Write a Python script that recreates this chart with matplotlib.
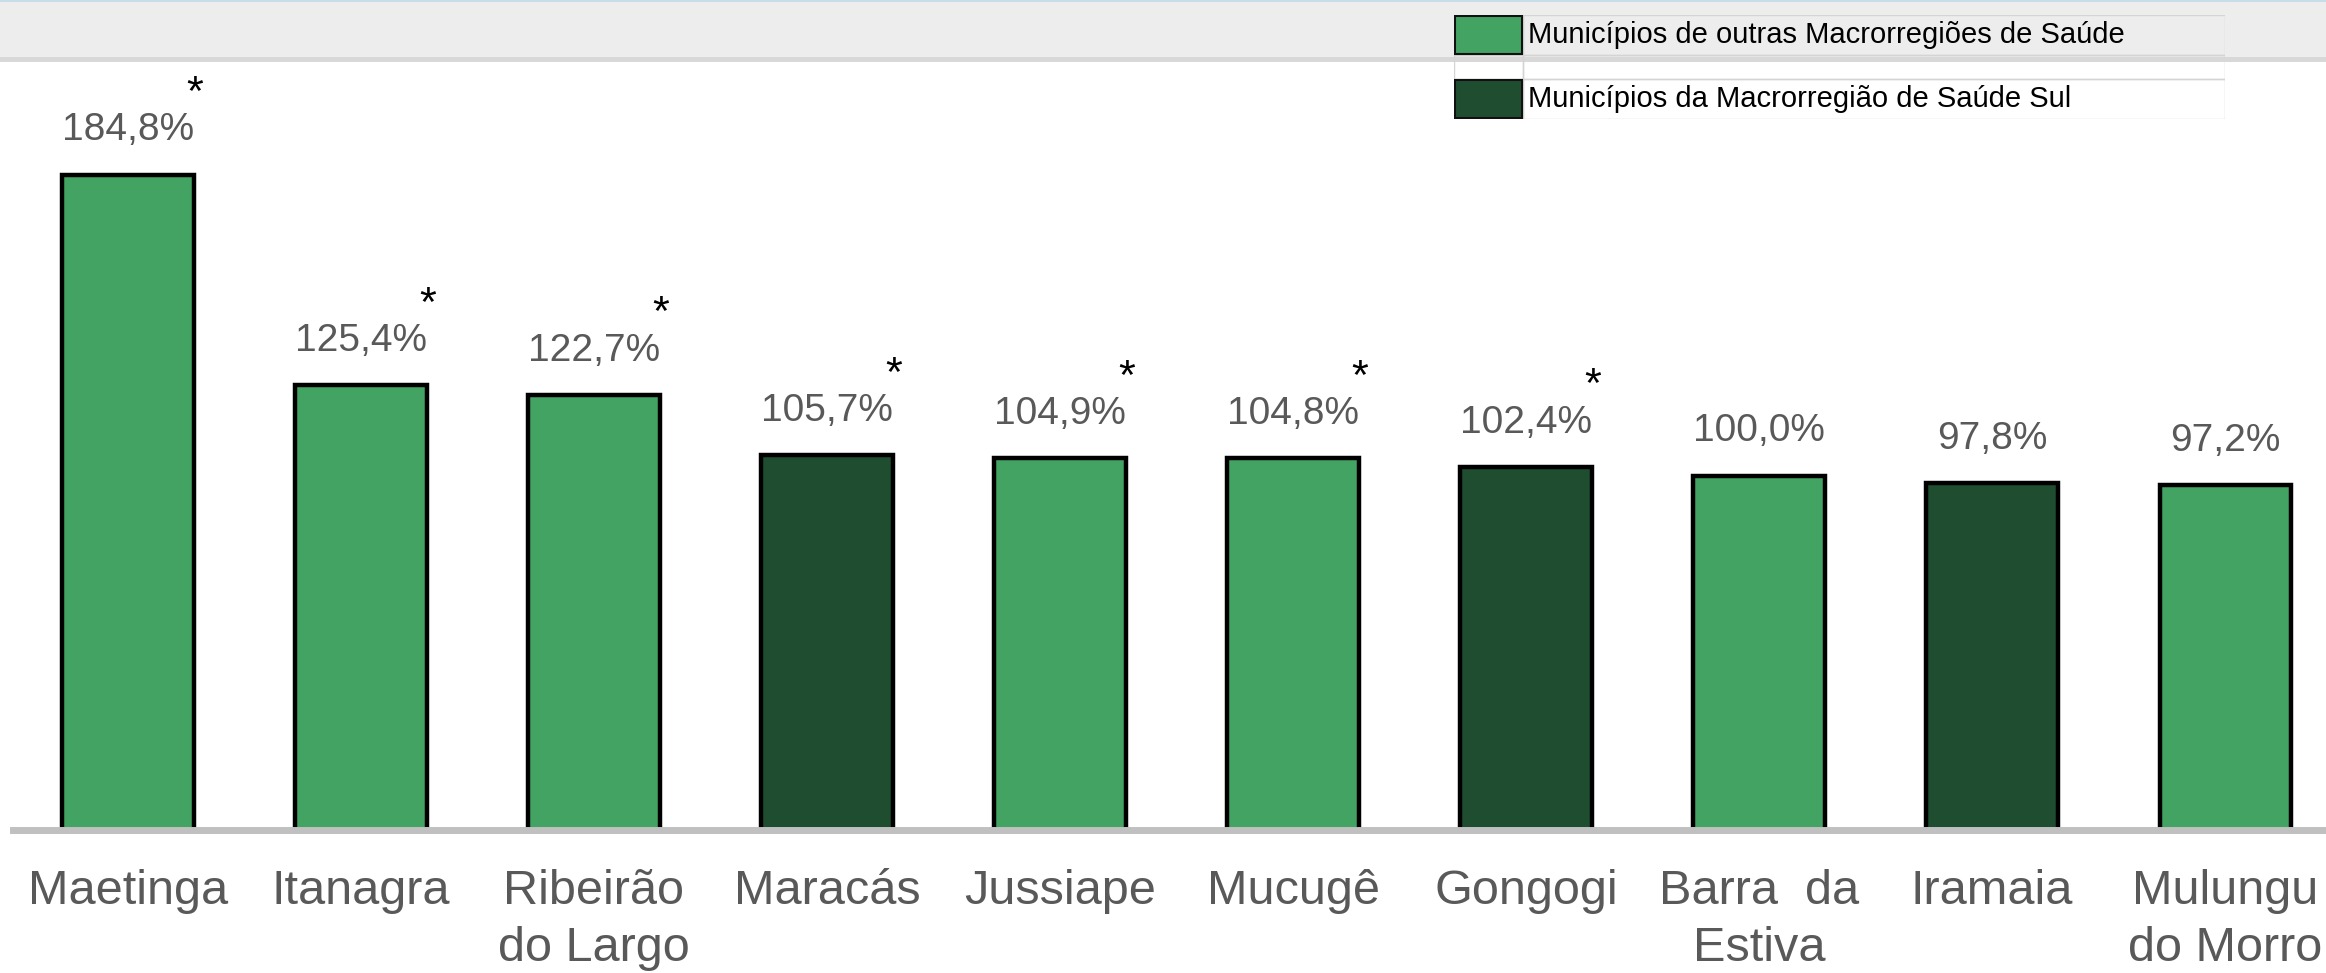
import matplotlib.pyplot as plt
from matplotlib.patches import Rectangle

# dados
municipios = ['Maetinga', 'Itanagra', 'Ribeirão\ndo Largo', 'Maracás', 'Jussiape',
              'Mucugê', 'Gongogi', 'Barra  da\nEstiva', 'Iramaia', 'Mulungu\ndo Morro']
percentuais = [184.8, 125.4, 122.7, 105.7, 104.9, 104.8, 102.4, 100.0, 97.8, 97.2]
macro_sul = [False, False, False, True, False, False, True, False, True, False]
asterisco = [True, True, True, True, True, True, True, False, False, False]
rotulos_legenda = ['Municípios de outras Macrorregiões de Saúde',
                   'Municípios da Macrorregião de Saúde Sul']

VERDE_CLARO = '#43a363'
VERDE_ESCURO = '#1f4d2f'
CINZA_TEXTO = '#595959'

plt.rcParams['font.family'] = ['Liberation Sans', 'DejaVu Sans']
plt.rcParams['hatch.linewidth'] = 1.4

W, H = 2326, 973
fig = plt.figure(figsize=(W / 100, H / 100), dpi=100)

# fundo: faixa hachurada no topo (em pixels)
bg = fig.add_axes([0, 0, 1, 1])
bg.set_xlim(0, W)
bg.set_ylim(H, 0)
bg.axis('off')
bg.add_patch(Rectangle((0, 0), W, 57, facecolor='#fbfbfb', edgecolor='#ededed',
                       hatch='/' * 20, linewidth=0))
bg.add_patch(Rectangle((0, 57), W, 5, facecolor='#d8d8d8', linewidth=0))
bg.add_patch(Rectangle((0, 0), W, 2, facecolor='#c9dcea', linewidth=0))

# grafico principal
ax = fig.add_axes([0, 0, 1, 1])
ax.patch.set_alpha(0)
ax.axis('off')
ax.set_xlim(-0.549, 9.433)
ax.set_ylim(-40.3, 234.1)

cores = [VERDE_ESCURO if s else VERDE_CLARO for s in macro_sul]
x = list(range(len(municipios)))
ax.bar(x, percentuais, width=0.563, color=cores, edgecolor='black', linewidth=3.2, zorder=2)
ax.axhline(0, xmin=13 / W, color='#c0c0c0', linewidth=5, zorder=3)

for i, v in enumerate(percentuais):
    ax.annotate(f'{v:.1f}%'.replace('.', ','), (i, v), xytext=(0, 32),
                textcoords='offset points', ha='center', va='center',
                fontsize=28, color=CINZA_TEXTO)
    if asterisco[i]:
        ax.annotate('*', (i, v), xytext=(48, 58), textcoords='offset points',
                    ha='center', va='center', fontsize=31, color='black')
    ax.text(i, -11, municipios[i], ha='center', va='top', fontsize=35,
            color=CINZA_TEXTO, linespacing=1.35)

# legenda em forma de tabela
lax = fig.add_axes([1454 / W, 1 - 119 / H, 771 / W, 104 / H])
lax.set_xlim(0, 771)
lax.set_ylim(104, 0)
lax.axis('off')
linhas = [(0, 40), (40, 64), (64, 104)]
for (y0, y1) in linhas:
    lax.add_patch(Rectangle((0, y0), 69, y1 - y0, fill=False, edgecolor='#d4d4d4', linewidth=1))
    lax.add_patch(Rectangle((69, y0), 702, y1 - y0, fill=False, edgecolor='#d4d4d4', linewidth=1))
for (y0, y1), cor, rot in zip([linhas[0], linhas[2]], [VERDE_CLARO, VERDE_ESCURO], rotulos_legenda):
    lax.add_patch(Rectangle((1, y0 + 1), 67, y1 - y0 - 2, facecolor=cor,
                            edgecolor='#111111', linewidth=1.5))
    lax.text(74, (y0 + y1) / 2, rot, ha='left', va='center', fontsize=21, color='black')

fig.savefig('out.png', dpi=100)
